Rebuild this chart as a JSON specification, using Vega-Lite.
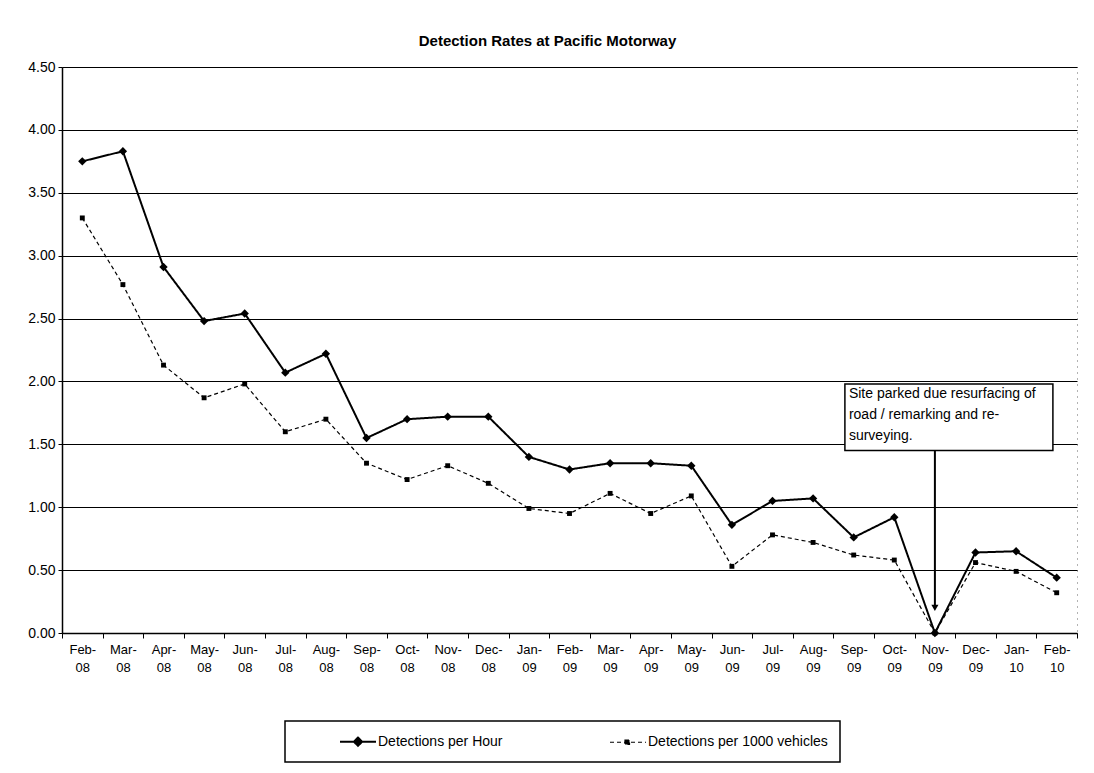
{
  "$schema": "https://vega.github.io/schema/vega-lite/v6.json",
  "width": 1015,
  "height": 566,
  "autosize": "none",
  "padding": {"left": 62, "top": 67, "right": 17, "bottom": 140},
  "background": "white",
  "config": {
    "font": "Liberation Sans",
    "view": {"stroke": "#666", "strokeDash": [1, 5], "strokeWidth": 1}
  },
  "title": {
    "text": "Detection Rates at Pacific Motorway",
    "fontSize": 15,
    "fontWeight": "bold",
    "font": "Liberation Sans",
    "color": "black",
    "anchor": "middle",
    "dx": -22,
    "offset": 11
  },
  "datasets": {
    "rates": [
      {"month": "Feb-08", "series": "Detections per Hour", "value": 3.75},
      {"month": "Mar-08", "series": "Detections per Hour", "value": 3.83},
      {"month": "Apr-08", "series": "Detections per Hour", "value": 2.91},
      {"month": "May-08", "series": "Detections per Hour", "value": 2.48},
      {"month": "Jun-08", "series": "Detections per Hour", "value": 2.54},
      {"month": "Jul-08", "series": "Detections per Hour", "value": 2.07},
      {"month": "Aug-08", "series": "Detections per Hour", "value": 2.22},
      {"month": "Sep-08", "series": "Detections per Hour", "value": 1.55},
      {"month": "Oct-08", "series": "Detections per Hour", "value": 1.70},
      {"month": "Nov-08", "series": "Detections per Hour", "value": 1.72},
      {"month": "Dec-08", "series": "Detections per Hour", "value": 1.72},
      {"month": "Jan-09", "series": "Detections per Hour", "value": 1.40},
      {"month": "Feb-09", "series": "Detections per Hour", "value": 1.30},
      {"month": "Mar-09", "series": "Detections per Hour", "value": 1.35},
      {"month": "Apr-09", "series": "Detections per Hour", "value": 1.35},
      {"month": "May-09", "series": "Detections per Hour", "value": 1.33},
      {"month": "Jun-09", "series": "Detections per Hour", "value": 0.86},
      {"month": "Jul-09", "series": "Detections per Hour", "value": 1.05},
      {"month": "Aug-09", "series": "Detections per Hour", "value": 1.07},
      {"month": "Sep-09", "series": "Detections per Hour", "value": 0.76},
      {"month": "Oct-09", "series": "Detections per Hour", "value": 0.92},
      {"month": "Nov-09", "series": "Detections per Hour", "value": 0.00},
      {"month": "Dec-09", "series": "Detections per Hour", "value": 0.64},
      {"month": "Jan-10", "series": "Detections per Hour", "value": 0.65},
      {"month": "Feb-10", "series": "Detections per Hour", "value": 0.44},
      {"month": "Feb-08", "series": "Detections per 1000 vehicles", "value": 3.30},
      {"month": "Mar-08", "series": "Detections per 1000 vehicles", "value": 2.77},
      {"month": "Apr-08", "series": "Detections per 1000 vehicles", "value": 2.13},
      {"month": "May-08", "series": "Detections per 1000 vehicles", "value": 1.87},
      {"month": "Jun-08", "series": "Detections per 1000 vehicles", "value": 1.98},
      {"month": "Jul-08", "series": "Detections per 1000 vehicles", "value": 1.60},
      {"month": "Aug-08", "series": "Detections per 1000 vehicles", "value": 1.70},
      {"month": "Sep-08", "series": "Detections per 1000 vehicles", "value": 1.35},
      {"month": "Oct-08", "series": "Detections per 1000 vehicles", "value": 1.22},
      {"month": "Nov-08", "series": "Detections per 1000 vehicles", "value": 1.33},
      {"month": "Dec-08", "series": "Detections per 1000 vehicles", "value": 1.19},
      {"month": "Jan-09", "series": "Detections per 1000 vehicles", "value": 0.99},
      {"month": "Feb-09", "series": "Detections per 1000 vehicles", "value": 0.95},
      {"month": "Mar-09", "series": "Detections per 1000 vehicles", "value": 1.11},
      {"month": "Apr-09", "series": "Detections per 1000 vehicles", "value": 0.95},
      {"month": "May-09", "series": "Detections per 1000 vehicles", "value": 1.09},
      {"month": "Jun-09", "series": "Detections per 1000 vehicles", "value": 0.53},
      {"month": "Jul-09", "series": "Detections per 1000 vehicles", "value": 0.78},
      {"month": "Aug-09", "series": "Detections per 1000 vehicles", "value": 0.72},
      {"month": "Sep-09", "series": "Detections per 1000 vehicles", "value": 0.62},
      {"month": "Oct-09", "series": "Detections per 1000 vehicles", "value": 0.58},
      {"month": "Nov-09", "series": "Detections per 1000 vehicles", "value": 0.00},
      {"month": "Dec-09", "series": "Detections per 1000 vehicles", "value": 0.56},
      {"month": "Jan-10", "series": "Detections per 1000 vehicles", "value": 0.49},
      {"month": "Feb-10", "series": "Detections per 1000 vehicles", "value": 0.32}
    ],
    "note": [
      {"label": "Site parked due resurfacing of road / remarking and re-surveying."}
    ]
  },
  "layer": [
    {
      "data": {"name": "rates"},
      "mark": {"type": "line", "color": "black"},
      "encoding": {
        "x": {
          "field": "month",
          "type": "ordinal",
          "sort": null,
          "bandPosition": 0.5,
          "scale": {"type": "band", "paddingInner": 0, "paddingOuter": 0},
          "axis": {
            "title": null,
            "labelAngle": 0,
            "labelFontSize": 13,
            "labelColor": "black",
            "labelLineHeight": 18,
            "labelPadding": 5,
            "labelBaseline": "top",
            "labelOverlap": false,
            "labelBound": false,
            "labelExpr": "datum.label ? [split(datum.label, '-')[0] + '-', split(datum.label, '-')[1]] : ''",
            "tickBand": "extent",
            "tickSize": 5,
            "tickColor": "black",
            "domainColor": "black",
            "domainWidth": 1.5,
            "grid": false
          }
        },
        "y": {
          "field": "value",
          "type": "quantitative",
          "scale": {"domain": [0, 4.5], "nice": false},
          "axis": {
            "title": null,
            "values": [0, 0.5, 1, 1.5, 2, 2.5, 3, 3.5, 4, 4.5],
            "format": ".2f",
            "labelFontSize": 14,
            "labelColor": "black",
            "labelPadding": 3,
            "tickSize": 4,
            "tickColor": "black",
            "domainColor": "black",
            "domainWidth": 1.5,
            "grid": true,
            "gridColor": "black",
            "gridWidth": 1,
            "gridOpacity": 1
          }
        },
        "strokeDash": {
          "field": "series",
          "type": "nominal",
          "scale": {
            "domain": ["Detections per Hour", "Detections per 1000 vehicles"],
            "range": [[1, 0], [4, 3]]
          },
          "legend": {
            "title": null,
            "orient": "none",
            "legendX": 223,
            "legendY": 654,
            "direction": "horizontal",
            "strokeColor": "black",
            "fillColor": "white",
            "padding": 12,
            "symbolSize": 225,
            "symbolType": "M4.6,0L9.4,0",
            "symbolStrokeColor": "black",
            "symbolFillColor": "black",
            "symbolStrokeWidth": 1.5,
            "labelFontSize": 14,
            "labelColor": "black",
            "labelLimit": 500,
            "labelOffset": 64,
            "columnPadding": 64,
            "labelExpr": "datum.label == 'Detections per 1000 vehicles' ? datum.label + '\u00a0\u00a0\u00a0\u00a0\u00a0\u00a0\u00a0\u00a0\u00a0\u00a0' : datum.label",
            "encode": {
              "legend": {"update": {"strokeWidth": {"value": 1.5}}},
              "symbols": {
                "update": {
                  "fill": {"value": "black"},
                  "stroke": {"value": "black"},
                  "strokeWidth": {"value": 1.5},
                  "opacity": {"value": 1},
                  "strokeDash": {"signal": "datum.value == 'Detections per Hour' ? [1, 0] : [3, 2]"},
                  "shape": {"signal": "datum.value == 'Detections per Hour' ? 'M4.6,0L9.4,0M7,-0.55L7.55,0L7,0.55L6.45,0Z' : 'M4.6,0L9.4,0M6.6,-0.3L7.2,-0.3L7.2,0.3L6.6,0.3Z'"}
                }
              }
            }
          }
        },
        "strokeWidth": {
          "field": "series",
          "type": "nominal",
          "scale": {
            "domain": ["Detections per Hour", "Detections per 1000 vehicles"],
            "range": [2, 1.2]
          },
          "legend": null
        }
      }
    },
    {
      "data": {"name": "rates"},
      "transform": [{"filter": "datum.series == 'Detections per Hour'"}],
      "mark": {"type": "point", "shape": "diamond", "filled": true, "color": "black", "size": 70, "opacity": 1},
      "encoding": {
        "x": {"field": "month", "type": "ordinal", "sort": null, "bandPosition": 0.5},
        "y": {"field": "value", "type": "quantitative"}
      }
    },
    {
      "data": {"name": "rates"},
      "transform": [{"filter": "datum.series == 'Detections per 1000 vehicles'"}],
      "mark": {"type": "point", "shape": "square", "filled": true, "color": "black", "size": 24, "opacity": 1},
      "encoding": {
        "x": {"field": "month", "type": "ordinal", "sort": null, "bandPosition": 0.5},
        "y": {"field": "value", "type": "quantitative"}
      }
    },
    {
      "data": {"name": "note"},
      "mark": {"type": "rule", "color": "black", "strokeWidth": 2},
      "encoding": {
        "x": {"datum": "Nov-09", "bandPosition": 0.5},
        "y": {"datum": 1.45},
        "y2": {"datum": 0.22}
      }
    },
    {
      "data": {"name": "note"},
      "mark": {"type": "point", "shape": "triangle-down", "filled": true, "color": "black", "size": 50, "opacity": 1},
      "encoding": {
        "x": {"datum": "Nov-09", "bandPosition": 0.5},
        "y": {"datum": 0.2}
      }
    },
    {
      "data": {"name": "note"},
      "mark": {"type": "bar", "fill": "white", "stroke": "black", "strokeWidth": 1.5, "width": 208, "xOffset": 14},
      "encoding": {
        "x": {"datum": "Nov-09"},
        "y": {"datum": 1.98},
        "y2": {"datum": 1.45}
      }
    },
    {
      "data": {"name": "note"},
      "mark": {"type": "text", "align": "left", "baseline": "top", "fontSize": 14, "color": "black", "lineHeight": 21, "xOffset": -86, "yOffset": 3},
      "encoding": {
        "x": {"datum": "Nov-09", "bandPosition": 0.5},
        "y": {"datum": 1.98},
        "text": {"value": ["Site parked due resurfacing of", "road / remarking and re-", "surveying."]}
      }
    }
  ]
}
